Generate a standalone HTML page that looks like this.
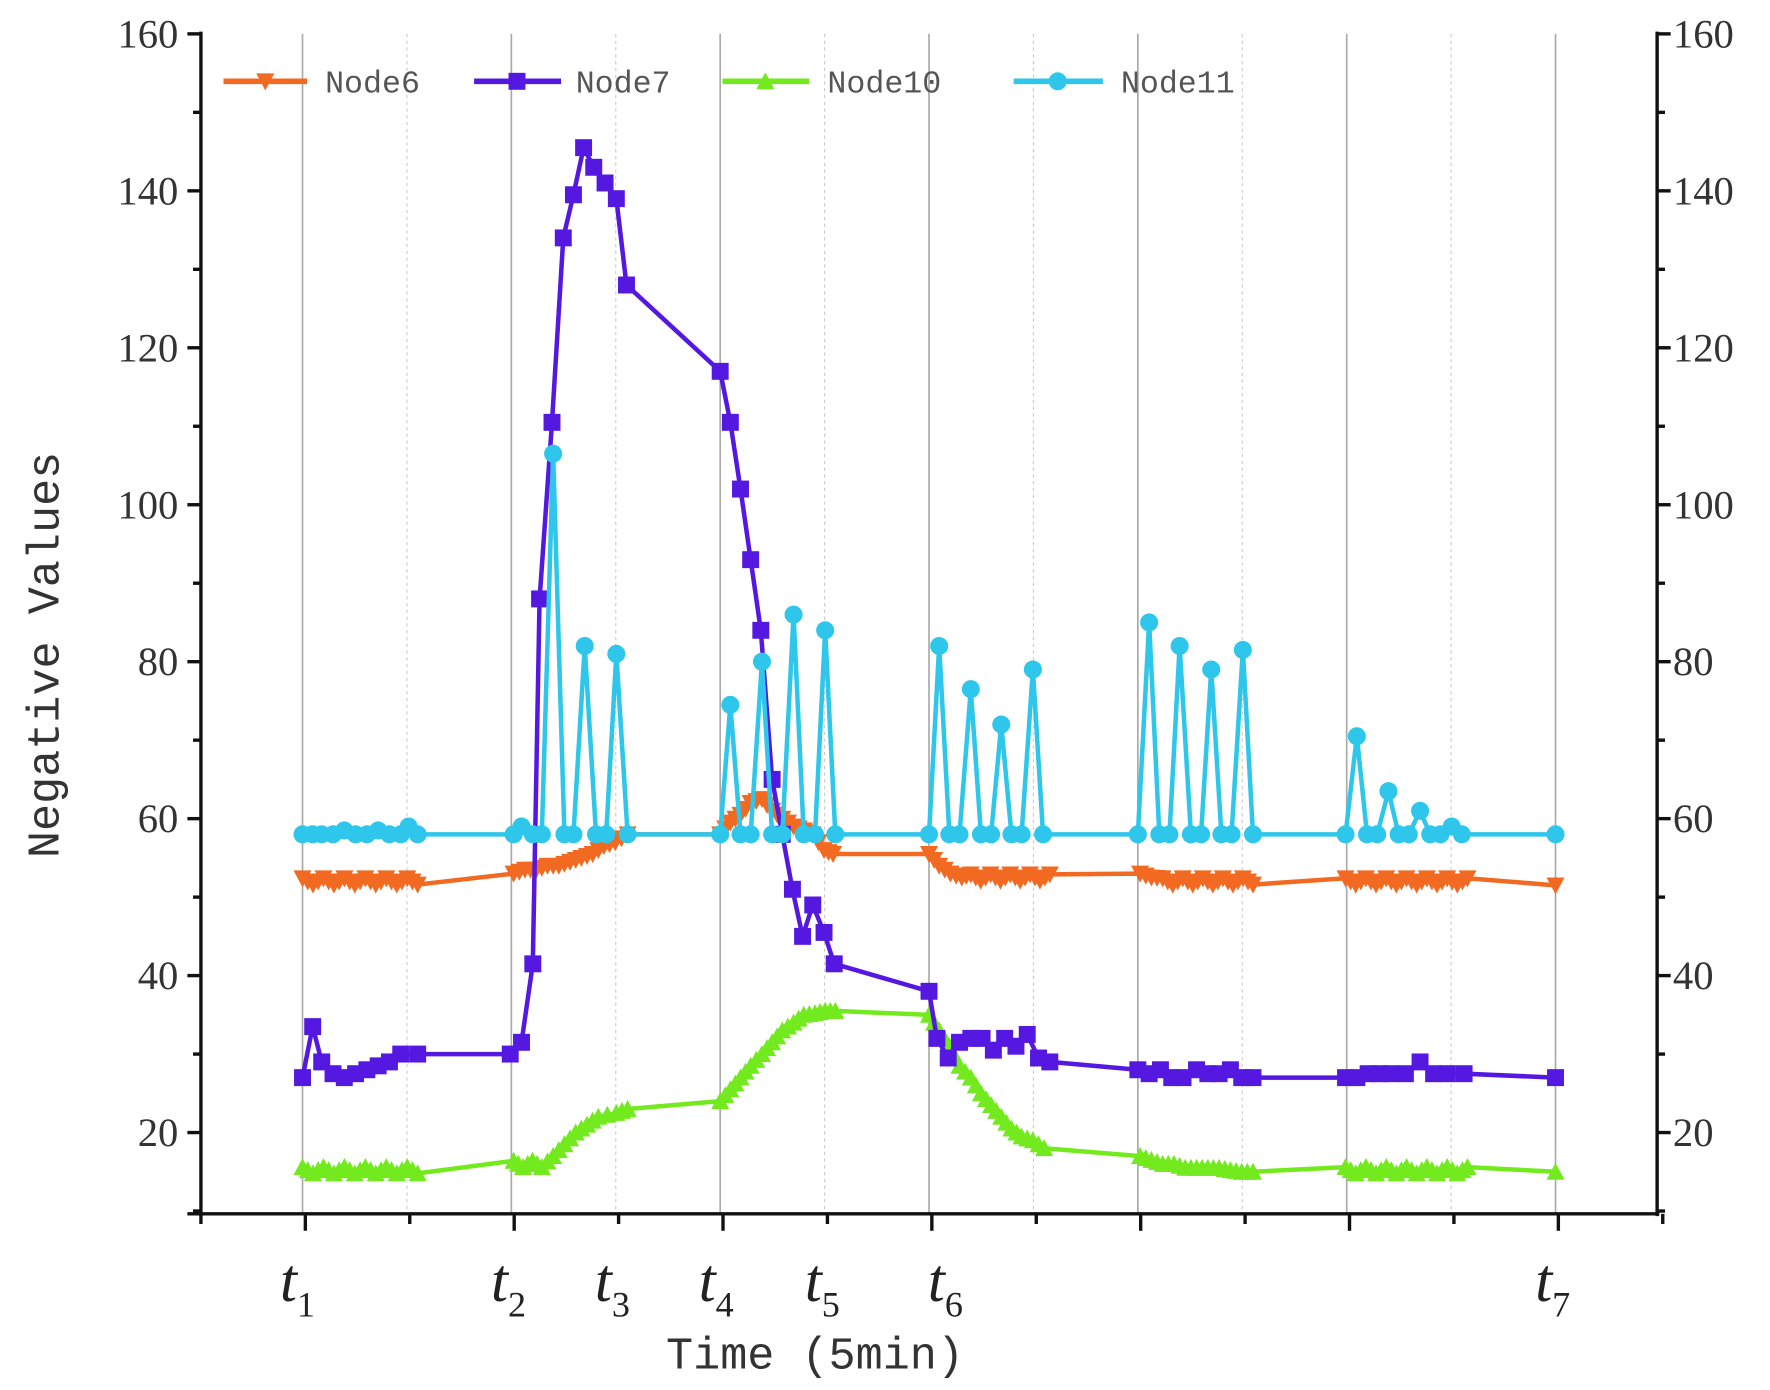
<!DOCTYPE html>
<html><head><meta charset="utf-8"><style>html,body{margin:0;padding:0;background:#fff}svg{display:block}</style></head>
<body>
<svg width="1770" height="1390" viewBox="0 0 1568 1231" preserveAspectRatio="none" xmlns="http://www.w3.org/2000/svg">
<defs>
<path id="mtd" d="M-8,-7 L8,-7 L0,8 Z" fill="#f26a21"/>
<rect id="msq" x="-7.5" y="-7.5" width="15" height="15" fill="#5418e0"/>
<path id="mtu" d="M-8,7 L8,7 L0,-8 Z" fill="#72ea1e"/>
<circle id="mci" r="8" fill="#2ec6ea"/>
</defs>
<g id="grid"></g>
<g id="axes"></g>
<g id="series"></g>
<g font-family="Liberation Mono, monospace" font-size="28" fill="#555">
<line x1="198" y1="72" x2="272" y2="72" stroke="#f26a21" stroke-width="5"/><use href="#mtd" x="235" y="72"/><text x="288" y="82">Node6</text>
<line x1="420" y1="72" x2="497" y2="72" stroke="#5418e0" stroke-width="5"/><use href="#msq" x="458" y="72"/><text x="510" y="82">Node7</text>
<line x1="640" y1="72" x2="717" y2="72" stroke="#72ea1e" stroke-width="5"/><use href="#mtu" x="678" y="72"/><text x="733" y="82">Node10</text>
<line x1="898" y1="72" x2="977" y2="72" stroke="#2ec6ea" stroke-width="5"/><use href="#mci" x="937" y="72"/><text x="993" y="82">Node11</text>
</g>
<g font-family="Liberation Serif, serif" font-style="italic" font-size="54" fill="#222">
<text x="248" y="1152">t<tspan font-size="32" dy="14" font-style="normal">1</tspan></text>
<text x="435" y="1152">t<tspan font-size="32" dy="14" font-style="normal">2</tspan></text>
<text x="527" y="1152">t<tspan font-size="32" dy="14" font-style="normal">3</tspan></text>
<text x="619" y="1152">t<tspan font-size="32" dy="14" font-style="normal">4</tspan></text>
<text x="713" y="1152">t<tspan font-size="32" dy="14" font-style="normal">5</tspan></text>
<text x="822" y="1152">t<tspan font-size="32" dy="14" font-style="normal">6</tspan></text>
<text x="1360" y="1152">t<tspan font-size="32" dy="14" font-style="normal">7</tspan></text>
</g>
<text x="722" y="1212" text-anchor="middle" font-family="Liberation Mono, monospace" font-size="40" fill="#333">Time (5min)</text>
<text transform="translate(52,580) rotate(-90)" text-anchor="middle" font-family="Liberation Mono, monospace" font-size="40" fill="#333">Negative Values</text>
</svg>
<script>
var ns="http://www.w3.org/2000/svg";
function Y(v){return 30+(160-v)*6.95;}
function el(p,t,a){var e=document.createElementNS(ns,t);for(var k in a)e.setAttribute(k,a[k]);p.appendChild(e);return e;}
var g=document.getElementById("grid"),ax=document.getElementById("axes"),s=document.getElementById("series");
for(var k=0;k<=12;k++){var x=268+92.5*k;var major=(k%2==0);
 el(g,"line",{x1:x,y1:30,x2:x,y2:1075,stroke:major?"#aaa":"#ccc","stroke-width":major?1.5:1,"stroke-dasharray":major?"":"3,3"});}
el(ax,"line",{x1:178,y1:28,x2:178,y2:1077,stroke:"#111","stroke-width":3});
el(ax,"line",{x1:1468,y1:28,x2:1468,y2:1077,stroke:"#111","stroke-width":3});
el(ax,"line",{x1:166,y1:1075,x2:1470,y2:1075,stroke:"#111","stroke-width":3});
for(var v=10;v<=160;v+=10){var y=Y(v);var mj=(v%20==0);
 el(ax,"line",{x1:mj?166:171,y1:y,x2:178,y2:y,stroke:"#111","stroke-width":3});
 el(ax,"line",{x1:1468,y1:y,x2:mj?1480:1475,y2:y,stroke:"#111","stroke-width":3});
 if(mj){var t=el(ax,"text",{x:158,y:y+12,"text-anchor":"end","font-family":"Liberation Serif, serif","font-size":36,fill:"#333"});t.textContent=v;
 var t2=el(ax,"text",{x:1482,y:y+12,"font-family":"Liberation Serif, serif","font-size":36,fill:"#333"});t2.textContent=v;}}
for(var k=0;k<=14;k++){var x=178+92.5*k;var mj=(k%2==1);
 el(ax,"line",{x1:x,y1:1075,x2:x,y2:mj?1090:1084,stroke:"#111","stroke-width":3});}
function dens(d){var r=[];for(var i=0;i<d.length;i++){r.push(d[i]);if(i<d.length-1){var a=d[i],b=d[i+1];var dx=b[0]-a[0];if(dx>6&&dx<20){r.push([(a[0]+b[0])/2,(a[1]+b[1])/2]);}}}return r;}
function ser(d,col,m,dn){var pts=d.map(function(p){return p[0]+","+Y(p[1]);}).join(" ");
 el(s,"polyline",{points:pts,fill:"none",stroke:col,"stroke-width":4,"stroke-linejoin":"round"});
 (dn?dens(d):d).forEach(function(p){el(s,"use",{href:"#"+m,x:p[0],y:Y(p[1])});});}
function fill(a,b,v,n,j){var r=[];for(var i=0;i<=n;i++)r.push([a+(b-a)*i/n,v+(j?((i%2)?-0.4:0.4):0)]);return r;}
var n6=[].concat(fill(268,370,52,11,1),[[455,53],[465,53.5],[475,53.5],[485,54],[495,54],[505,54.5],[515,55],[525,55.5],[535,56.5],[545,57],[556,58],[638,58],[647,59.5],[656,60.5],[665,62],[675,62.5],[684,61],[693,60],[703,59],[712,58.5],[720,58],[730,56],[738,55.5],[823,55.5],[832,54],[842,53],[852,52.5]],fill(860,930,52.5,8,1),[[1010,53],[1020,52.5]],fill(1030,1110,52,9,1),fill(1192,1300,52,12,1),[[1378,51.5]]);
var n7=[[268,27],[277,33.5],[285,29],[295,27.5],[305,27],[315,27.5],[325,28],[335,28.5],[345,29],[355,30],[370,30],[452,30],[462,31.5],[472,41.5],[478,88],[489,110.5],[499,134],[508,139.5],[517,145.5],[526,143],[536,141],[546,139],[555,128],[638,117],[647,110.5],[656,102],[665,93],[674,84],[684,65],[693,58],[702,51],[711,45],[720,49],[730,45.5],[739,41.5],[823,38],[830,32],[840,29.5],[850,31.5],[860,32],[870,32],[880,30.5],[890,32],[900,31],[910,32.5],[920,29.5],[930,29],[1008,28],[1018,27.5],[1028,28],[1038,27],[1048,27],[1060,28],[1070,27.5],[1080,27.5],[1090,28],[1100,27],[1110,27],[1192,27],[1202,27],[1212,27.5],[1222,27.5],[1232,27.5],[1245,27.5],[1258,29],[1270,27.5],[1282,27.5],[1297,27.5],[1378,27]];
var n10=[].concat(fill(268,370,15.2,11,1),fill(455,480,16,3,1),[[490,17],[500,18.5],[510,20],[520,21],[530,22],[546,22.5],[556,23],[638,24],[647,25.5],[656,27],[665,28.5],[675,30],[684,31.5],[693,33],[703,34],[712,35],[722,35.2],[731,35.5],[740,35.5],[823,35],[832,33],[841,31],[850,28.5],[860,27],[869,25],[878,23.5],[887,22],[896,20.5],[905,19.5],[915,19],[925,18],[1010,17],[1020,16.5],[1030,16],[1040,16],[1050,15.5],[1060,15.5],[1070,15.5],[1080,15.5],[1090,15.2],[1100,15],[1110,15]],fill(1192,1300,15.2,12,1),[[1378,15]]);
var n11=[[268,58],[277,58],[285,58],[295,58],[305,58.5],[315,58],[325,58],[335,58.5],[345,58],[355,58],[362,59],[370,58],[455,58],[462,59],[472,58],[480,58],[490,106.5],[500,58],[508,58],[518,82],[528,58],[537,58],[546,81],[556,58],[638,58],[647,74.5],[656,58],[665,58],[675,80],[684,58],[693,58],[703,86],[712,58],[722,58],[731,84],[740,58],[823,58],[832,82],[841,58],[850,58],[860,76.5],[869,58],[878,58],[887,72],[896,58],[905,58],[915,79],[924,58],[1008,58],[1018,85],[1027,58],[1036,58],[1045,82],[1055,58],[1064,58],[1073,79],[1082,58],[1091,58],[1101,81.5],[1110,58],[1192,58],[1202,70.5],[1211,58],[1220,58],[1230,63.5],[1239,58],[1248,58],[1258,61],[1267,58],[1276,58],[1286,59],[1295,58],[1378,58]];
ser(n10,"#72ea1e","mtu",1);ser(n6,"#f26a21","mtd",1);ser(n7,"#5418e0","msq",0);ser(n11,"#2ec6ea","mci",0);
</script>
</body></html>
